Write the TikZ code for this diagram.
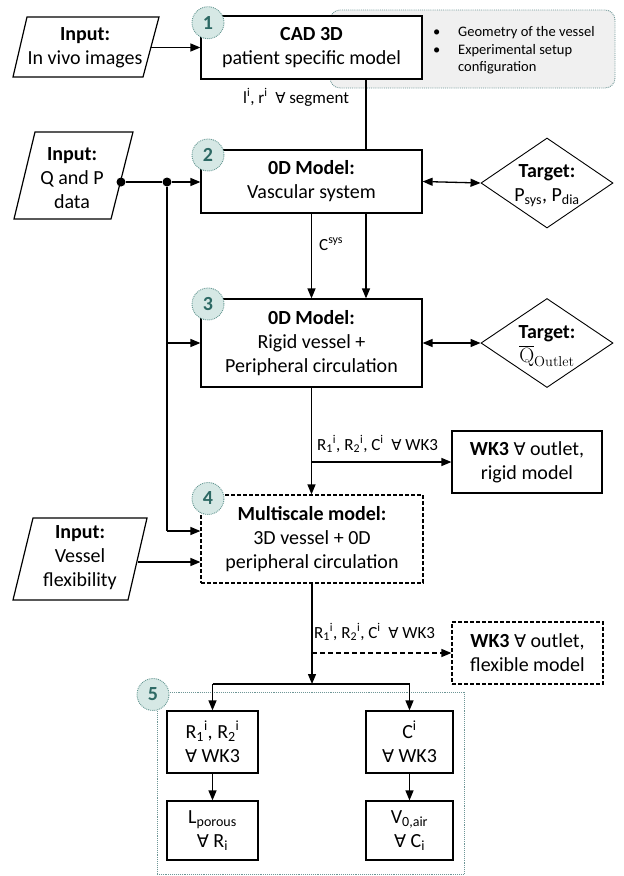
\documentclass[tikz,border=0pt]{standalone}
\usepackage[no-math]{fontspec}
\setmainfont{Carlito}
\newfontfamily\symf{DejaVu Sans}[Scale=0.88]
\usetikzlibrary{arrows.meta,shapes.geometric}
\definecolor{badgefill}{RGB}{214,232,229}
\definecolor{badgeline}{RGB}{100,150,145}
\definecolor{badgetext}{RGB}{45,105,100}
\definecolor{notefill}{RGB}{240,240,240}
\definecolor{noteline}{RGB}{110,150,150}
\newcommand{\fa}{{\symf ∀}}
\newcommand{\mainf}{\fontsize{20}{24}\selectfont}
\newcommand{\labf}{\fontsize{17}{20}\selectfont}
\newcommand{\notef}{\fontsize{14.5}{17}\selectfont}
\tikzset{
  box/.style={draw, fill=white, line width=1.2pt, inner sep=0pt, align=center, font=\mainf},
  dbox/.style={box, dash pattern=on 4pt off 2pt},
  arr/.style={line width=1.3pt, -{Triangle[length=10pt,width=8pt]}},
  darr/.style={line width=1.3pt, {Triangle[length=10pt,width=8pt]}-{Triangle[length=10pt,width=8pt]}},
  dsarr/.style={arr, dash pattern=on 5pt off 3pt},
  link/.style={line width=1.3pt},
  diam/.style={draw, diamond, line width=0.9pt, inner sep=0pt, fill=white},
  badge/.style={circle, fill=badgefill, draw=badgeline, densely dotted, line width=0.9pt, minimum size=32pt, inner sep=0pt, text=badgetext, font=\fontsize{20}{24}\selectfont\bfseries},
  para/.style={draw, line width=1.2pt, fill=white},
  txt/.style={align=center, font=\mainf, inner sep=0pt},
  lab/.style={anchor=base west, font=\labf, inner sep=0pt},
  note/.style={anchor=base west, font=\notef, inner sep=0pt},
  dot/.style={circle, fill=black, minimum size=9pt, inner sep=0pt}
}
\begin{document}
\begin{tikzpicture}[x=1pt,y=-1pt]
\useasboundingbox (0,0) rectangle (624,876);

% note box behind box 1
\draw[fill=notefill, draw=noteline, densely dotted, line width=0.9pt, rounded corners=10pt] (330,10) rectangle (615,88);
\node[note] (n0) at (433,36.7) {•};
\node[note] (n1) at (458,36.7) {Geometry of the vessel};
\node[note] (n2) at (433,54) {•};
\node[note] (n3) at (458,54) {Experimental setup};
\node[note] (n4) at (458,71) {configuration};

% inputs
\draw[para] (27,17) -- (159,17) -- (143,77) -- (13,77) -- cycle;
\node[txt] (in1) at (85,48) {\textbf{Input:}\\In vivo images};
\coordinate (in1r) at (151,47.5);

\draw[para] (35,132) -- (133,132) -- (111,219) -- (14,219) -- cycle;
\node[txt] (in2) at (72,178) {\textbf{Input:}\\Q and P\\data};

\draw[para] (33,518) -- (147,518) -- (128,600) -- (13,600) -- cycle;
\node[txt] (in3) at (80,558) {\textbf{Input:}\\Vessel\\flexibility};
\coordinate (in3r) at (138,562);

% main boxes
\node[box, minimum width=221pt, minimum height=63pt] (b1) at (311.5,47.5) {\textbf{CAD 3D}\\patient specific model};
\node[box, minimum width=221pt, minimum height=63pt] (b2) at (311.5,181.5) {\textbf{0D Model:}\\Vascular system};
\node[box, minimum width=221pt, minimum height=88pt] (b3) at (311.5,343) {\textbf{0D Model:}\\Rigid vessel +\\Peripheral circulation};
\node[dbox, minimum width=222pt, minimum height=88pt] (b4) at (312,539) {\textbf{Multiscale model:}\\3D vessel + 0D\\peripheral circulation};

\node[box, minimum width=150pt, minimum height=62pt] (wkr) at (527,462) {\textbf{WK3} \fa\ outlet,\\rigid model};
\node[dbox, minimum width=151pt, minimum height=62pt] (wkf) at (527.5,653) {\textbf{WK3} \fa\ outlet,\\flexible model};

% targets
\node[diam, minimum width=132pt, minimum height=90pt] (t1) at (547,183) {};
\node[txt] (t1t) at (547,186) {\textbf{Target:}\\P\textsubscript{sys}, P\textsubscript{dia}};
\node[diam, minimum width=132pt, minimum height=89pt] (t2) at (547,343) {};
\node[txt] (t2t) at (547,346) {\textbf{Target:}\\$\overline{\mathrm{Q}}_{\mathrm{Outlet}}$};

% group 5
\draw[draw=noteline, densely dotted, line width=0.9pt] (157,692) rectangle (464,874.5);
\node[box, minimum width=91pt, minimum height=62pt] (bA) at (212.5,742) {R\textsubscript{1}\textsuperscript{i}, R\textsubscript{2}\textsuperscript{i}\\\fa\ WK3};
\node[box, minimum width=87pt, minimum height=62pt] (bB) at (409.5,742) {C\textsuperscript{i}\\\fa\ WK3};
\node[box, minimum width=91pt, minimum height=59pt] (bC) at (212.5,830.5) {L\textsubscript{porous}\\\fa\ R\textsubscript{i}};
\node[box, minimum width=87pt, minimum height=59pt] (bD) at (409.5,830.5) {V\textsubscript{0,air}\\\fa\ C\textsubscript{i}};

% badges
\node[badge] (k1) at (208,22.7) {1};
\node[badge] (k2) at (208,155) {2};
\node[badge] (k3) at (208,304) {3};
\node[badge] (k4) at (208,498.5) {4};
\node[badge] (k5) at (153,694.5) {5};

% connectors
\draw[arr] (in1r) -- (in1r -| b1.west);
\draw[link] ([xshift=54.5pt]b1.south) -- ([xshift=54.5pt]b2.north);
\node[lab] (l1) at (243,103) {l\textsuperscript{i}, r\textsuperscript{i}\ \ \fa\ segment};

\node[dot] (d1) at (121,182) {};
\node[dot] (j) at (167,182) {};
\coordinate (j4) at (167,531);
\draw[link] (d1) -- (j);
\draw[arr] (j) -- (j -| b2.west);
\draw[link] (j) -- (j4);
\draw[arr] (j |- b3.west) -- (b3.west);
\draw[arr] (j4) -- (j4 -| b4.west);
\draw[arr] (in3r) -- (in3r -| b4.west);

\draw[darr] (b2.east) -- (t1.west);
\draw[darr] (b3.east) -- (t2.west);

\draw[arr] (b2.south) -- (b3.north);
\draw[arr] ([xshift=54.5pt]b2.south) -- ([xshift=54.5pt]b3.north);
\node[lab] (l2) at (319,250) {C\textsuperscript{sys}};

\draw[arr] (b3.south) -- (b3.south |- b4.north);
\coordinate (br1) at (311.5,462);
\draw[arr] (br1) -- (wkr.west);
\node[lab] (l3) at (317,450) {R\textsubscript{1}\textsuperscript{i}, R\textsubscript{2}\textsuperscript{i}, C\textsuperscript{i}\ \ \fa\ WK3};

\coordinate (br2) at (312,653);
\coordinate (sp) at (312,684);
\draw[arr] (b4.south) -- (sp);
\draw[dsarr] (br2) -- (wkf.west);
\node[lab] (l4) at (314,638) {R\textsubscript{1}\textsuperscript{i}, R\textsubscript{2}\textsuperscript{i}, C\textsuperscript{i}\ \ \fa\ WK3};

\draw[link] (bA.north |- sp) -- (bB.north |- sp);
\draw[arr] (bA.north |- sp) -- (bA.north);
\draw[arr] (bB.north |- sp) -- (bB.north);
\draw[arr] (bA.south) -- (bC.north);
\draw[arr] (bB.south) -- (bD.north);
\end{tikzpicture}
\end{document}
